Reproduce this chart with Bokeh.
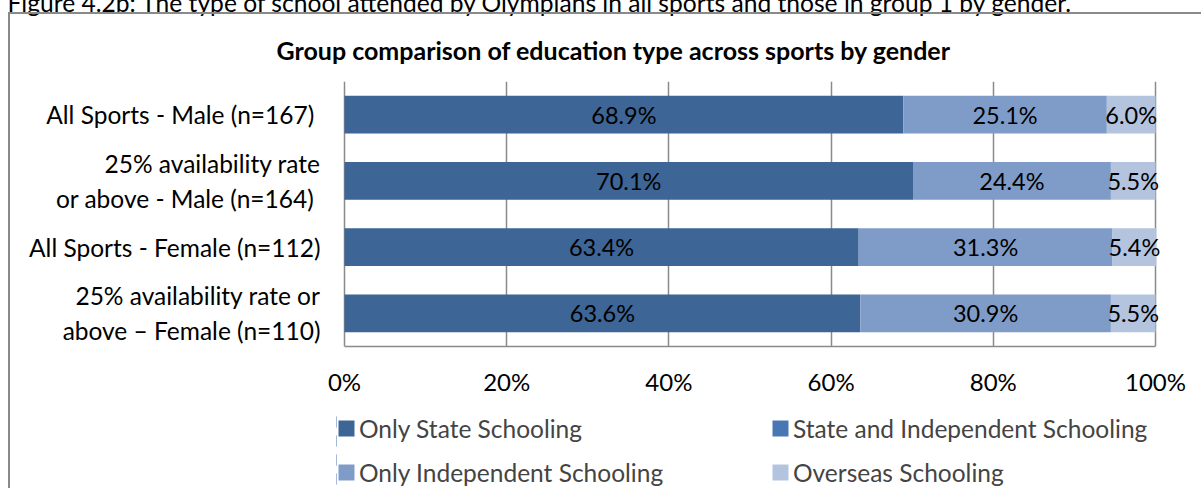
from bokeh.plotting import figure
from bokeh.layouts import column
from bokeh.models import (ColumnDataSource, FactorRange, Range1d, FixedTicker,
                          PrintfTickFormatter, LabelSet, Title, InlineStyleSheet,
                          Legend, LegendItem)
from bokeh.core.properties import value
from bokeh.embed import file_html
from bokeh.resources import INLINE

# ---------------- data ----------------
categories = ["All  Sports - Male (n=167)",
              "25% availability rate\nor above  - Male (n=164)",
              "All Sports - Female (n=112)",
              "25% availability rate or\nabove \u2013 Female (n=110)"]
series_names = ["Only State Schooling", "State and Independent Schooling",
                "Only Independent Schooling", "Overseas Schooling"]
only_state = [68.9, 70.1, 63.4, 63.6]
state_and_indep = [0.0, 0.0, 0.0, 0.0]
only_indep = [25.1, 24.4, 31.3, 30.9]
overseas = [6.0, 5.5, 5.4, 5.5]
x_ticks = [0, 20, 40, 60, 80, 100]
colors = ["#3D6596", "#4878B4", "#7F9CC9", "#B4C4DF"]

title_text = "Group comparison of education type across sports by gender"
caption_text = ("Figure 4.2b: The type of school attended by Olympians in all sports "
                "and those in group 1 by gender.")

FONT = "Lato"

# ---------------- layout (page pixels) ----------------
FL, FRR, FT, FB = 336, 1180, 81, 346  # frame edges on the page
ZERO_PX, FULL_PX = 344, 1155          # where 0 % and 100 % sit
SHIFT = 24                            # whole page content moved up by this
SPLIT = 400                           # page y where the legend strip begins
W = 1201
H1 = SPLIT + SHIFT
H2 = 488 - SPLIT
px_per = (FULL_PX - ZERO_PX) / 100.0
x_start = -(ZERO_PX - FL) / px_per
x_end = 100 + (FRR - FULL_PX) / px_per

series = [only_state, state_and_indep, only_indep, overseas]
keys = ["s0", "s1", "s2", "s3"]
data = {"cat": categories}
for k, s in zip(keys, series):
    data[k] = s
src = ColumnDataSource(data)

gray = "#8A8A8A"
box_css_top = InlineStyleSheet(css=(
    ":host::after { content: ''; position: absolute; left: 8px; top: %dpx; "
    "right: 0px; bottom: 0px; border-left: 2px solid %s; border-top: 2px solid %s; "
    "pointer-events: none; box-sizing: border-box; }" % (12 + SHIFT, gray, gray)))
box_css_bottom = InlineStyleSheet(css=(
    ":host::after { content: ''; position: absolute; left: 8px; top: 0px; "
    "right: 0px; bottom: 0px; border-left: 2px solid %s; "
    "pointer-events: none; box-sizing: border-box; }" % gray))

# ---------------- main chart ----------------
p = figure(width=W, height=H1, output_backend="svg", toolbar_location=None,
           title=None,
           y_range=FactorRange(factors=categories[::-1]),
           x_range=Range1d(x_start, x_end),
           min_border_left=FL, min_border_right=W - FRR,
           min_border_top=FT + SHIFT, min_border_bottom=H1 - (FB + SHIFT),
           styles={"position": "relative"},
           stylesheets=[box_css_top])
p.outline_line_color = None
p.background_fill_color = "white"
p.border_fill_color = "white"

p.hbar_stack(keys, y="cat", height=0.57, color=colors, source=src, line_color=None)

# data labels
lx, ly, lt = [], [], []
for i, c in enumerate(categories):
    left = 0.0
    for s in series:
        v = s[i]
        if v > 0:
            lx.append(left + v / 2.0)
            ly.append(c)
            lt.append(f"{v:.1f}%")
        left += v
lab_src = ColumnDataSource(dict(x=lx, y=ly, t=lt))
p.add_layout(LabelSet(x="x", y="y", text="t", source=lab_src, text_align="center",
                      text_baseline="middle", text_font=value(FONT),
                      text_font_size="23.5px", text_color="black"))

# axes
p.xaxis.ticker = FixedTicker(ticks=x_ticks)
p.xaxis.formatter = PrintfTickFormatter(format="%d%%")
p.xaxis.bounds = (0, 100)
p.xaxis.axis_line_color = gray
p.xaxis.axis_line_width = 1.5
p.xaxis.major_tick_line_color = None
p.xaxis.minor_tick_line_color = None
p.xaxis.major_tick_out = 0
p.xaxis.major_tick_in = 0
p.xaxis.major_label_standoff = 20
p.xaxis.major_label_text_font = FONT
p.xaxis.major_label_text_font_size = "24px"
p.xaxis.major_label_text_color = "black"

p.yaxis.axis_line_color = None
p.yaxis.major_tick_line_color = None
p.yaxis.minor_tick_line_color = None
p.yaxis.major_tick_out = 0
p.yaxis.major_tick_in = 0
p.yaxis.major_label_standoff = 16
p.yaxis.major_label_text_font = FONT
p.yaxis.major_label_text_font_size = "24.5px"
p.yaxis.major_label_text_color = "black"

p.xgrid.grid_line_color = gray
p.xgrid.grid_line_width = 1.5
p.ygrid.grid_line_color = None

# title and caption (stacked above the frame)
p.add_layout(Title(text=title_text, align="left", offset=-(FL - 276), vertical_align="middle",
                   standoff=32, text_font=FONT, text_font_style="bold",
                   text_font_size="25px", text_color="black"), "above")
p.add_layout(Title(text=caption_text, align="left", offset=-(FL - 7), vertical_align="middle",
                   standoff=0, text_font=FONT, text_font_style="normal",
                   text_font_size="24.6px", text_color="black"), "above")

# ---------------- legend strip ----------------
LEG_LEFT = 334
LEG_TOP = 412 - SPLIT     # top of the first legend row inside the strip
q = figure(width=W, height=H2, output_backend="svg", toolbar_location=None,
           title=None, x_axis_location=None, y_axis_location=None,
           y_range=FactorRange(factors=categories[::-1]),
           x_range=Range1d(1000, 2000),
           min_border_left=LEG_LEFT, min_border_right=0,
           min_border_top=LEG_TOP, min_border_bottom=0,
           styles={"position": "relative"},
           stylesheets=[box_css_bottom])
q.outline_line_color = None
q.xgrid.grid_line_color = None
q.ygrid.grid_line_color = None
q.background_fill_color = "white"
q.border_fill_color = "white"
leg_renderers = q.hbar_stack(keys, y="cat", height=0.57, color=colors, source=src,
                             line_color=None)

items = [LegendItem(label=n, renderers=[r]) for n, r in zip(series_names, leg_renderers)]
common = dict(orientation="horizontal", padding=0, margin=0,
              spacing=101, glyph_width=20, glyph_height=20, label_standoff=3,
              label_width=310, label_height=32, label_text_font=FONT,
              label_text_font_size="24.5px", border_line_color=None,
              background_fill_alpha=0)
q.add_layout(Legend(items=items[:2], location="top_left", **common), "center")
q.add_layout(Legend(items=items[2:], location="bottom_left", **common), "center")

layout = column(p, q, spacing=0, styles={"margin-top": f"-{SHIFT}px"})

open("out.html", "w").write(file_html(layout, INLINE))
